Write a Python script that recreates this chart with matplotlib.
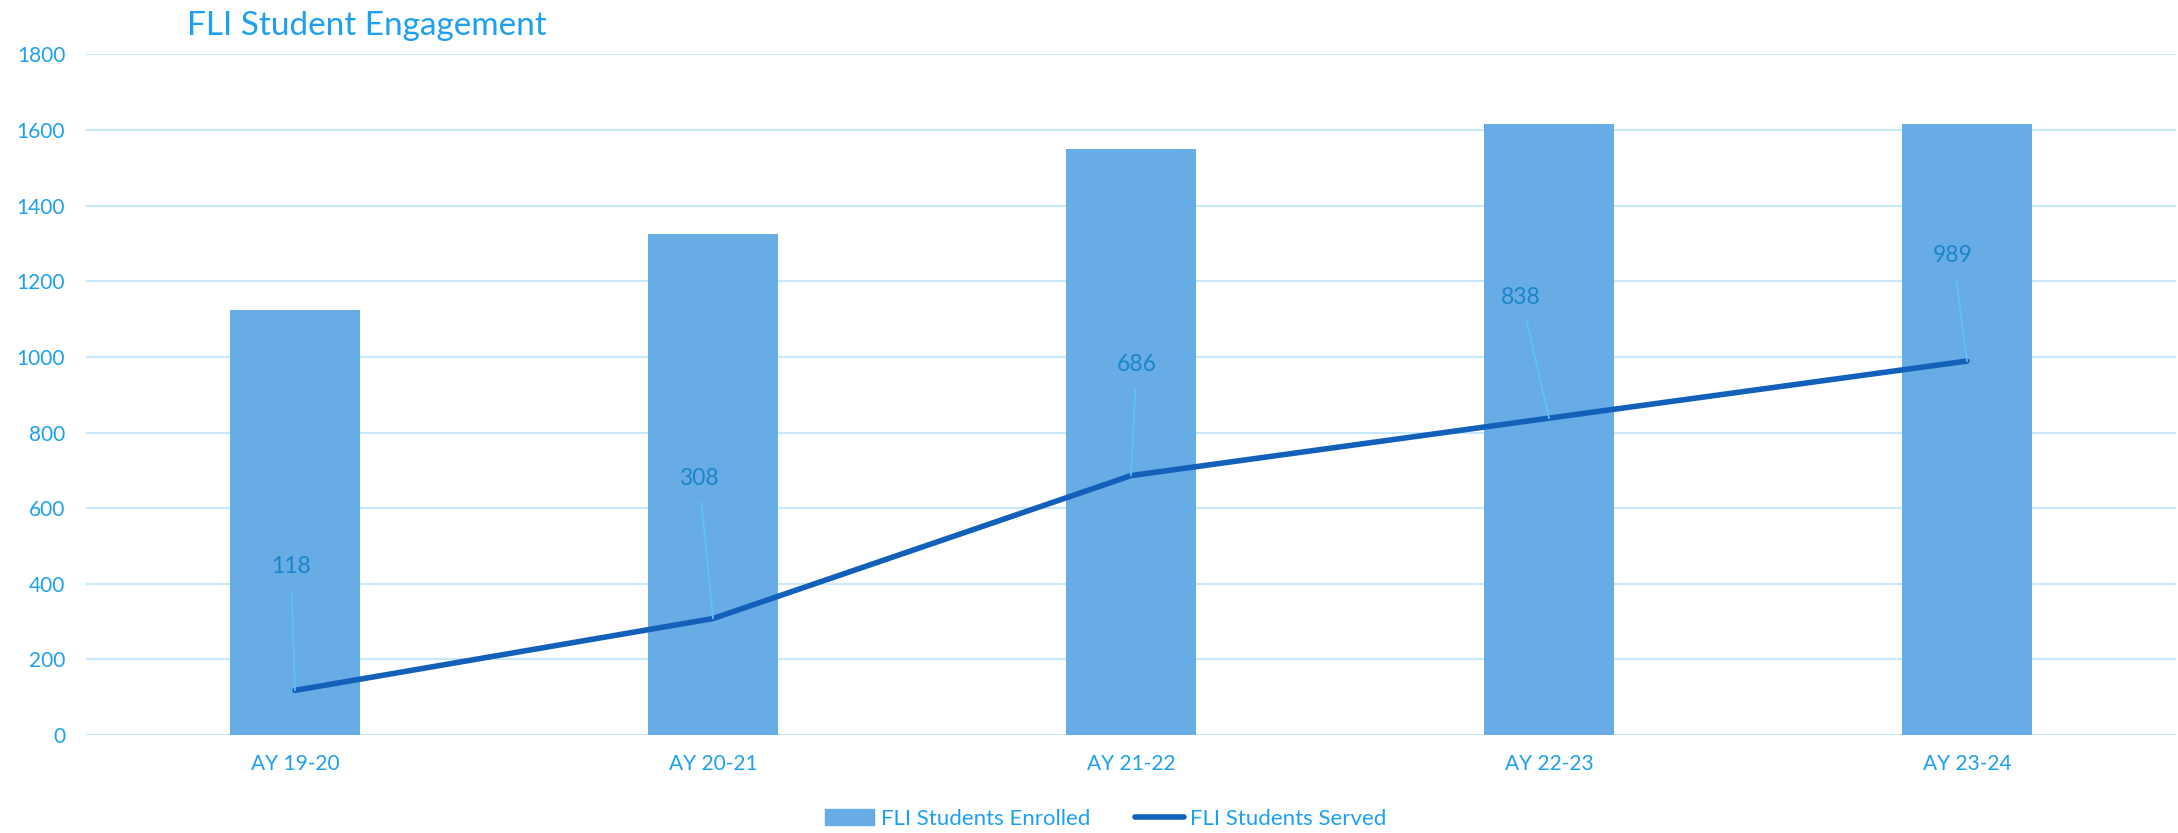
import numpy as np
import matplotlib
matplotlib.use('Agg')
import matplotlib.pyplot as plt
from matplotlib.patches import Patch
from matplotlib.lines import Line2D

plt.rcParams['font.family'] = ['Lato', 'DejaVu Sans']

years = ['AY 19-20', 'AY 20-21', 'AY 21-22', 'AY 22-23', 'AY 23-24']
enrolled = [1123, 1324, 1551, 1617, 1615]
served = [118, 308, 686, 838, 989]

# label offsets from each point, in points (dx, dy)
label_offsets = [(-3, 89), (-10, 101), (4, 80), (-20, 87), (-10, 76)]

BAR = '#68ACE5'
LINE = '#1360BA'
TEXT = '#1EA0F0'
LABEL = '#1B85C8'
GRID = '#C8E8FB'
LEADER = '#5EC3F8'

fig = plt.figure(figsize=(21.78, 8.33), dpi=100)
ax = fig.add_axes([86 / 2178, 1 - 735 / 833, 2090 / 2178, (735 - 54.4) / 833])

x = np.arange(len(years))
ax.bar(x, enrolled, width=0.313, color=BAR, zorder=2)
ax.plot(x, served, color=LINE, lw=4, solid_capstyle='round', zorder=3)

for xi, v, (dx, dy) in zip(x, served, label_offsets):
    ax.annotate(str(v), xy=(xi, v), xytext=(dx, dy), textcoords='offset points',
                ha='center', va='center', fontsize=16.5, color=LABEL, zorder=4,
                arrowprops=dict(arrowstyle='-', color=LEADER, lw=1.2,
                                shrinkA=8, shrinkB=0))

ax.set_xlim(-0.5, len(years) - 0.5)
ax.set_ylim(0, 1800)
ax.set_yticks(np.arange(0, 1801, 200))
ax.set_xticks(x)
ax.set_xticklabels(years)
ax.yaxis.grid(True, color=GRID, lw=1.5, zorder=0)
ax.set_axisbelow(True)
for s in ax.spines.values():
    s.set_visible(False)
ax.tick_params(axis='both', length=0, labelsize=15, colors=TEXT)
ax.tick_params(axis='y', pad=15)
ax.tick_params(axis='x', pad=14)

fig.text(187 / 2178, 1 - 26 / 833, 'FLI Student Engagement', fontsize=24,
         color=TEXT, ha='left', va='center')

handles = [Patch(color=BAR, label='FLI Students Enrolled'),
           Line2D([0], [0], color=LINE, lw=4, solid_capstyle='round', label='FLI Students Served')]
fig.legend(handles=handles, loc='center', bbox_to_anchor=(1106 / 2178, 1 - 819 / 833),
           ncol=2, frameon=False, fontsize=16, labelcolor=TEXT,
           handlelength=2.2, handletextpad=0.3, columnspacing=2.0)

fig.savefig('out.png', dpi=100)
